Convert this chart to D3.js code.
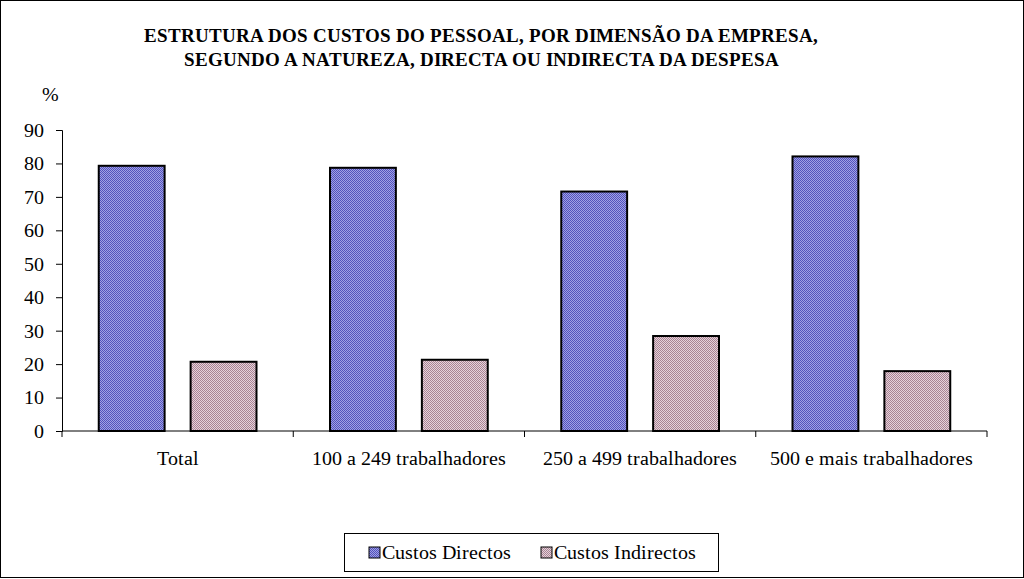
<!DOCTYPE html>
<html><head><meta charset="utf-8">
<script src="https://cdn.jsdelivr.net/npm/d3@7"></script>
<style>
@font-face{font-family:"LibSerifX";src:local("Liberation Serif"),local("LiberationSerif"),local("LiberationSerif-Regular"),local("Times New Roman");font-weight:400;font-style:normal}
@font-face{font-family:"LibSerifX";src:local("Liberation Serif Bold"),local("LiberationSerif-Bold"),local("Times New Roman Bold");font-weight:700;font-style:normal}
body{margin:0;background:#fff}svg{display:block}
</style>
</head><body><svg id="c" width="1024" height="579"></svg>
<script>
const categories = ["Total","100 a 249 trabalhadores","250 a 499 trabalhadores","500 e mais trabalhadores"];
const series = ["Custos Directos","Custos Indirectos"];
const directos = [79.3, 78.7, 71.6, 82.1];
const indirectos = [20.7, 21.3, 28.4, 17.9];
const yTicks = [0,10,20,30,40,50,60,70,80,90];
const titleLines = ["ESTRUTURA DOS CUSTOS DO PESSOAL, POR DIMENSÃO DA EMPRESA,","SEGUNDO A NATUREZA, DIRECTA OU INDIRECTA DA DESPESA"];

const FONT = '"LibSerifX","Liberation Serif",serif';
const svg = d3.select("#c");
const defs = svg.append("defs");
function checker(id, c1, c2){
  const p = defs.append("pattern").attr("id",id).attr("width",2).attr("height",2).attr("patternUnits","userSpaceOnUse");
  p.append("rect").attr("width",2).attr("height",2).attr("fill",c2);
  p.append("rect").attr("width",1).attr("height",1).attr("fill",c1);
  p.append("rect").attr("x",1).attr("y",1).attr("width",1).attr("height",1).attr("fill",c1);
}
checker("pd","#5252bc","#a0a0e4");
checker("pi","#a88494","#e6d2da");
const fills = ["url(#pd)","url(#pi)"];

svg.append("rect").attr("x",0.5).attr("y",0.5).attr("width",1023).attr("height",577).attr("fill","#fff").attr("stroke","#000").attr("stroke-width",1);

const L=62,R=987,T=130,B=431;
const x = d3.scaleBand().domain(categories).range([L,R]).paddingInner(0).paddingOuter(0);
const xs = d3.scaleBand().domain(series).range([0,x.bandwidth()]).paddingInner(0.283).paddingOuter(0.4);
const y = d3.scaleLinear().domain([0,90]).range([B,T]);

const data = categories.map((c,i)=>({c, v:[directos[i],indirectos[i]]}));
const g = svg.append("g");
data.forEach(d=>{
  d.v.forEach((v,j)=>{
    g.append("rect").attr("x",x(d.c)+xs(series[j])).attr("y",y(v))
      .attr("width",xs.bandwidth()).attr("height",B-y(v))
      .attr("fill",fills[j]).attr("stroke","#000").attr("stroke-width",2);
  });
});

// y axis
const ya = svg.append("g").attr("transform",`translate(${L},0)`)
  .call(d3.axisLeft(y).tickValues(yTicks).tickSize(6).tickPadding(12));
ya.attr("font-family",null).attr("font-size",null);
ya.selectAll("text").style("font-size","20px").style("font-family",FONT).attr("fill","#000");
ya.selectAll("line,path").attr("stroke","#000");

// x axis
const xa = svg.append("g").attr("transform",`translate(0,${B})`);
xa.append("line").attr("x1",L).attr("x2",R).attr("y1",0).attr("y2",0).attr("stroke","#000");
const bounds = categories.map(c=>x(c)).concat([R]);
xa.selectAll("line.t").data(bounds).enter().append("line").attr("class","t")
  .attr("x1",d=>d).attr("x2",d=>d).attr("y1",0).attr("y2",6).attr("stroke","#000");
xa.selectAll("text").data(categories).enter().append("text")
  .attr("x",d=>x(d)+x.bandwidth()/2).attr("y",34).attr("text-anchor","middle")
  .style("font-family",FONT).style("font-size","20px").text(d=>d);

svg.append("text").attr("x",50).attr("y",101).attr("text-anchor","middle").style("font-family",FONT).style("font-size","20px").text("%");

svg.selectAll("text.title").data(titleLines).enter().append("text").attr("class","title")
  .attr("x",481).attr("y",(d,i)=>42+i*24).attr("text-anchor","middle")
  .style("font-family",FONT).style("font-size","19px").style("font-weight","bold").text(d=>d);

// legend
const lg = svg.append("g");
lg.append("rect").attr("x",344.5).attr("y",533.5).attr("width",374).attr("height",38).attr("fill","#fff").attr("stroke","#000");
const lx=[369,541];
series.forEach((s,j)=>{
  lg.append("rect").attr("x",lx[j]).attr("y",547).attr("width",11).attr("height",11).attr("fill",fills[j]).attr("stroke","#000").attr("stroke-width",1);
  lg.append("text").attr("x",lx[j]+13).attr("y",559).style("font-family",FONT).style("font-size","20px").text(s);
});
</script></body></html>
